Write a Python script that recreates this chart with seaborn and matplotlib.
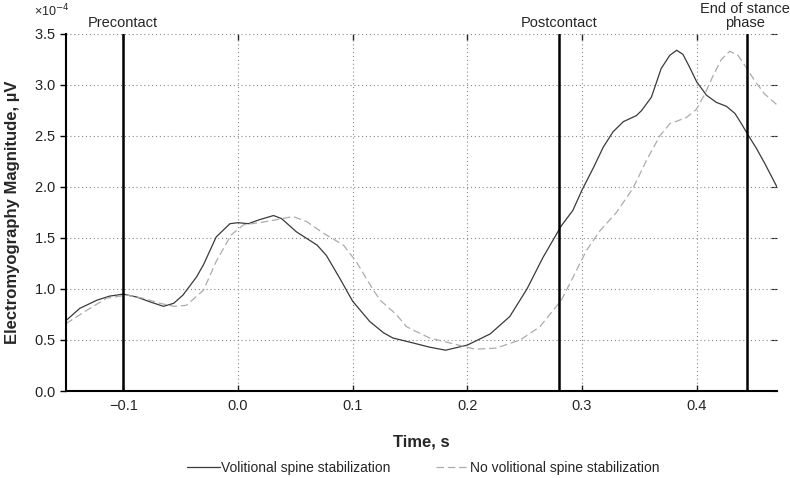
import numpy as np
import pandas as pd
import matplotlib
matplotlib.use("Agg")
import matplotlib.pyplot as plt
import seaborn as sns
from matplotlib.ticker import ScalarFormatter

# Values (time in s, EMG in units of 1e-4 µV)
t_vol = [-0.15, -0.138, -0.123, -0.112, -0.1, -0.088, -0.077, -0.065, -0.056,
         -0.048, -0.036, -0.03, -0.019, -0.007, 0.0, 0.009, 0.019, 0.031,
         0.038, 0.051, 0.069, 0.077, 0.089, 0.1, 0.115, 0.127, 0.135, 0.153,
         0.167, 0.181, 0.2, 0.22, 0.237, 0.252, 0.266, 0.282, 0.292, 0.3,
         0.31, 0.3185, 0.327, 0.336, 0.3475, 0.352, 0.3605, 0.369, 0.3765,
         0.3825, 0.388, 0.394, 0.4, 0.4085, 0.417, 0.426, 0.4334, 0.439,
         0.4448, 0.452, 0.4594, 0.47]
emg_vol = [0.69, 0.81, 0.89, 0.93, 0.95, 0.92, 0.875, 0.83, 0.86,
           0.94, 1.12, 1.24, 1.51, 1.64, 1.65, 1.64, 1.68, 1.72,
           1.69, 1.56, 1.43, 1.33, 1.10, 0.88, 0.68, 0.57, 0.52, 0.47,
           0.43, 0.40, 0.45, 0.56, 0.73, 1.00, 1.31, 1.62, 1.77, 1.97,
           2.19, 2.39, 2.54, 2.64, 2.70, 2.75, 2.88, 3.16, 3.29,
           3.34, 3.30, 3.17, 3.03, 2.90, 2.83, 2.79, 2.72, 2.62,
           2.51, 2.38, 2.23, 2.0]

t_novol = [-0.15, -0.132, -0.1145, -0.097, -0.083, -0.068, -0.056, -0.045,
           -0.03, -0.019, -0.006, 0.005, 0.019, 0.034, 0.048, 0.06, 0.074,
           0.092, 0.103, 0.118, 0.124, 0.138, 0.147, 0.167, 0.185, 0.207,
           0.225, 0.246, 0.2633, 0.282, 0.2924, 0.304, 0.3156, 0.33, 0.3446,
           0.3562, 0.3678, 0.3765, 0.391, 0.3997, 0.407, 0.4143, 0.4215,
           0.4288, 0.436, 0.4433, 0.4506, 0.4594, 0.4695]
emg_novol = [0.66, 0.79, 0.91, 0.94, 0.91, 0.86, 0.83, 0.84,
             0.99, 1.27, 1.53, 1.63, 1.65, 1.68, 1.71, 1.66, 1.55,
             1.43, 1.27, 0.99, 0.89, 0.75, 0.63, 0.52, 0.47, 0.41,
             0.42, 0.50, 0.63, 0.89, 1.12, 1.38, 1.57, 1.75, 1.99,
             2.26, 2.50, 2.62, 2.68, 2.76, 2.91, 3.09, 3.25,
             3.33, 3.29, 3.17, 3.04, 2.91, 2.81]

events = [-0.1, 0.28, 0.444]
event_labels = ["Precontact", "Postcontact", "End of stance\nphase"]

scale = 1e-4
df = pd.concat([
    pd.DataFrame({"t": t_vol, "emg": np.array(emg_vol) * scale,
                  "cond": "Volitional spine stabilization"}),
    pd.DataFrame({"t": t_novol, "emg": np.array(emg_novol) * scale,
                  "cond": "No volitional spine stabilization"}),
])

sns.set_style("white")
plt.rcParams["font.family"] = ["Liberation Sans", "DejaVu Sans"]

fig = plt.figure(figsize=(7.9, 4.78), dpi=100)
ax = fig.add_axes([0.0835, 0.182, 0.9, 0.747])

sns.lineplot(data=df, x="t", y="emg", hue="cond", style="cond",
             palette=["#3a3a3a", "#acacac"],
             dashes=[(None, None), (6, 3)], linewidth=0.9,
             estimator=None, sort=False, ax=ax)

# event markers with their captions above the plot
for x, lab in zip(events, event_labels):
    ax.axvline(x, color="black", lw=1.8, zorder=3)
    xt = x - 0.0015 if "\n" in lab else x
    ax.text(xt, 3.54e-4, lab, ha="center", va="bottom", fontsize=10.5,
            linespacing=1.0, clip_on=False)

ax.set_xlim(-0.15, 0.47)
ax.set_ylim(0, 3.5e-4)
ax.set_xticks([-0.1, 0.0, 0.1, 0.2, 0.3, 0.4])
ax.set_xticklabels(["\u22120.1", "0.0", "0.1", "0.2", "0.3", "0.4"])
ax.set_yticks(np.arange(0, 3.51e-4, 0.5e-4))

fmt = ScalarFormatter(useMathText=True)
fmt.set_powerlimits((-3, 3))
ax.yaxis.set_major_formatter(fmt)
ax.yaxis.get_offset_text().set_visible(False)
fig.text(0.043, 0.978, "\u00d710$^{\u22124}$", fontsize=9, ha="left",
         va="center")

ax.grid(True, ls=(0, (1, 2.5)), color="#888888", lw=0.8)
for s in ["top", "right"]:
    ax.spines[s].set_visible(False)
for s in ["left", "bottom"]:
    ax.spines[s].set_color("black")
    ax.spines[s].set_linewidth(1.5)

ax.tick_params(axis="y", direction="out", length=4, width=1, labelsize=10.5,
               left=True, colors="black")
ax.tick_params(axis="y", labelcolor="#222222")
ax.tick_params(axis="x", direction="in", length=4, width=1, labelsize=10.5,
               bottom=True, top=True, pad=6)

sec = ax.secondary_yaxis("right")
sec.set_yticks(np.arange(0, 3.51e-4, 0.5e-4))
sec.tick_params(direction="in", length=4, width=0.8, labelright=False)
sec.spines["right"].set_visible(False)

ax.set_xlabel("Time, s", fontsize=12, fontweight="bold", labelpad=15)
ax.set_ylabel("Electromyography Magnitude, \u00b5V", fontsize=12,
              fontweight="bold", labelpad=10)

handles, labels = ax.get_legend_handles_labels()
ax.get_legend().remove()
fig.legend(handles, labels, loc="lower center", bbox_to_anchor=(0.536, -0.02),
           ncol=2, frameon=False, fontsize=10, handlelength=2.4,
           handletextpad=0.05, columnspacing=3.3)

fig.savefig("out.png", dpi=100)
